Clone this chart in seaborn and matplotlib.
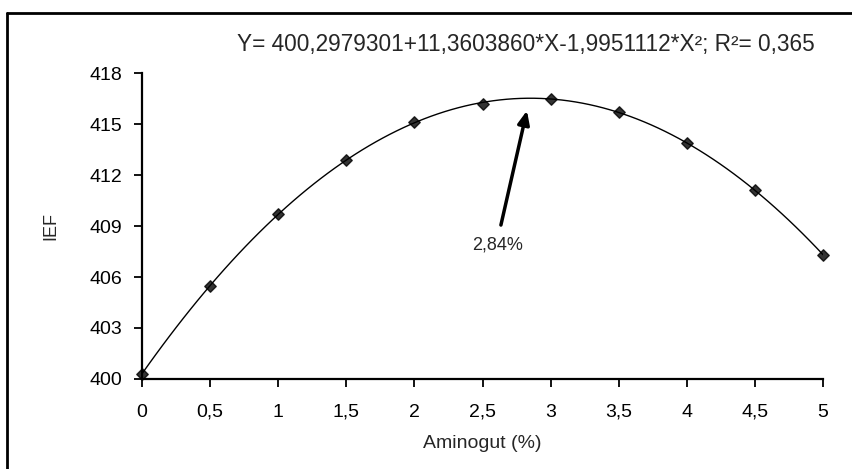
import matplotlib
matplotlib.use("Agg")
import matplotlib.pyplot as plt
import seaborn as sns
import pandas as pd
from matplotlib.lines import Line2D

# Data
aminogut = [0, 0.5, 1, 1.5, 2, 2.5, 3, 3.5, 4, 4.5, 5]
ief = [400.3, 405.5, 409.7, 412.9, 415.1, 416.2, 416.5, 415.7, 413.9, 411.1, 407.3]
x_ticks = [0, 0.5, 1, 1.5, 2, 2.5, 3, 3.5, 4, 4.5, 5]
x_ticklabels = ["0", "0,5", "1", "1,5", "2", "2,5", "3", "3,5", "4", "4,5", "5"]
y_ticks = [400, 403, 406, 409, 412, 415, 418]
equation = "Y= 400,2979301+11,3603860*X-1,9951112*X²; R²= 0,365"
optimum_label = "2,84%"

df = pd.DataFrame({"Aminogut": aminogut, "IEF": ief})

sns.set_style("white")
plt.rcParams["font.family"] = ["Liberation Sans", "DejaVu Sans"]

fig = plt.figure(figsize=(8.53, 4.69), dpi=100)
ax = fig.add_axes([0.1665, 0.192, 0.7985, 0.652])

sns.regplot(data=df, x="Aminogut", y="IEF", order=2, ci=None, ax=ax,
            marker="D", truncate=True,
            scatter_kws={"color": "black", "s": 34, "clip_on": False, "zorder": 3},
            line_kws={"color": "black", "linewidth": 1.0})

ax.set_xlim(0, 5)
ax.set_ylim(400, 418)
ax.set_xticks(x_ticks)
ax.set_xticklabels(x_ticklabels)
ax.set_yticks(y_ticks)
ax.tick_params(axis="both", which="major", bottom=True, left=True,
               direction="out", length=6, width=1.3,
               labelsize=14, color="black", labelcolor="black")
ax.tick_params(axis="x", pad=12)
ax.tick_params(axis="y", pad=8)
for s in ["top", "right"]:
    ax.spines[s].set_visible(False)
for s in ["left", "bottom"]:
    ax.spines[s].set_linewidth(1.6)
    ax.spines[s].set_color("black")

ax.set_xlabel("Aminogut (%)", fontsize=14, labelpad=10)
ax.set_ylabel("IEF", fontsize=13, labelpad=22)

ax.annotate("", xy=(2.83, 415.95), xytext=(2.63, 408.9),
            arrowprops=dict(arrowstyle="-|>,head_length=0.8,head_width=0.35",
                            color="black", lw=2.5))
ax.text(2.61, 407.9, optimum_label, ha="center", va="center", fontsize=13)

fig.text(0.616, 0.906, equation, ha="center", va="center", fontsize=16.3)

# figure frame (left and top edges visible)
fig.add_artist(Line2D([0.0085, 0.0085], [0.0, 0.972], transform=fig.transFigure,
                      color="black", lw=2))
fig.add_artist(Line2D([0.0085, 1.0], [0.972, 0.972], transform=fig.transFigure,
                      color="black", lw=2))

fig.savefig("out.png", dpi=100)
